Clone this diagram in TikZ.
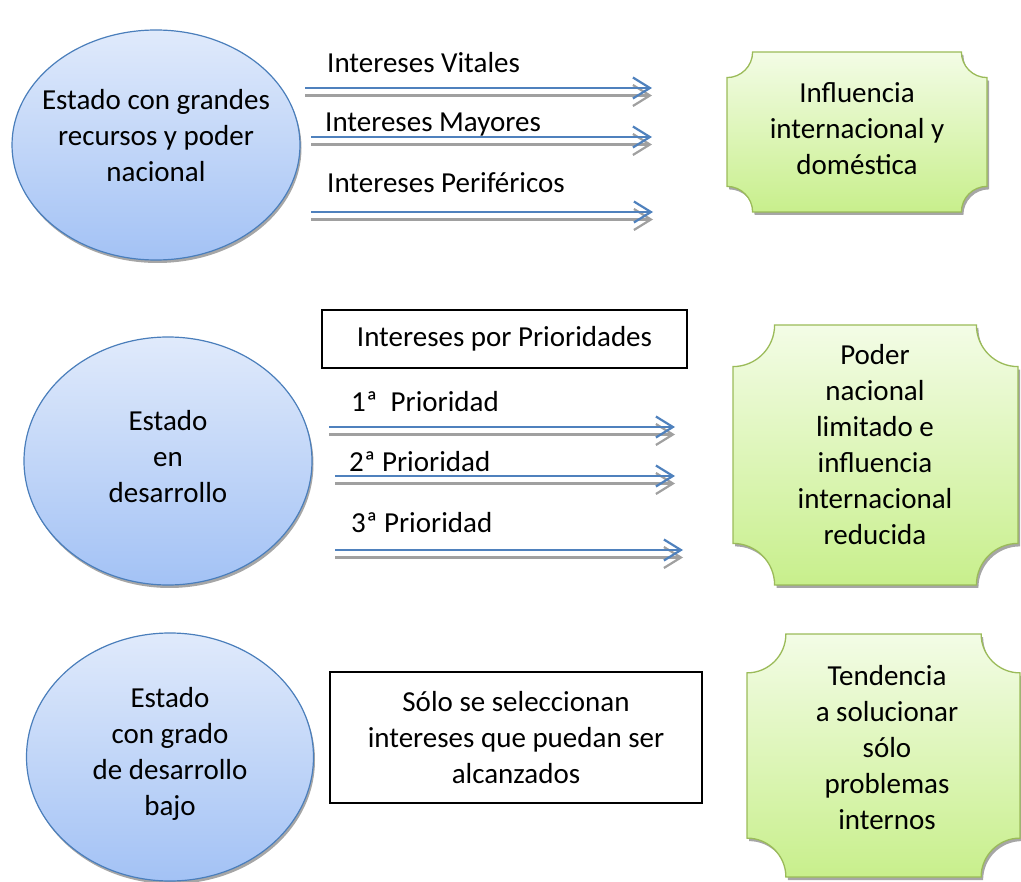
\documentclass[tikz,border=0pt]{standalone}
\usepackage{fontspec}
\setmainfont{Carlito}
\usetikzlibrary{shapes.geometric,arrows.meta,shadows}

\definecolor{ovalline}{RGB}{74,126,187}
\definecolor{ovaltop}{RGB}{224,234,251}
\definecolor{ovalbot}{RGB}{163,194,245}
\definecolor{plaqline}{RGB}{155,187,89}
\definecolor{plaqtop}{RGB}{243,252,230}
\definecolor{plaqbot}{RGB}{200,239,140}
\definecolor{arrblue}{RGB}{79,129,189}
\definecolor{arrgrey}{RGB}{160,160,160}

% plaque with concave corners: x1 y1 x2 y2
\newcommand\placa[4]{%
	\pgfmathsetmacro\rr{0.16*min(#3-#1,#4-#2)}
	\path[plaque] (#1+\rr,#2) -- (#3-\rr,#2) arc[start angle=180, end angle=90, radius=\rr]
		-- (#3,#4-\rr) arc[start angle=-90, end angle=-180, radius=\rr]
		-- (#1+\rr,#4) arc[start angle=0, end angle=-90, radius=\rr]
		-- (#1,#2+\rr) arc[start angle=90, end angle=0, radius=\rr] -- cycle;
}

\begin{document}
\begin{tikzpicture}[x=1pt, y=-1pt, font=\fontsize{29}{36}\selectfont,
	estado/.style={ellipse, draw=ovalline, line width=1.2pt, top color=ovaltop, bottom color=ovalbot,
		inner sep=0pt,
		drop shadow={shadow xshift=1.5pt, shadow yshift=-3pt, fill=black, opacity=.35}},
	plaque/.style={draw=plaqline, line width=1.3pt, top color=plaqtop, bottom color=plaqbot,
		drop shadow={shadow xshift=2pt, shadow yshift=-3pt, fill=black, opacity=.35}},
	caja/.style={draw, line width=1.3pt, align=center, inner sep=0pt},
	etiqueta/.style={anchor=base west, inner sep=0pt},
	flecha/.style={line width=2.2pt, -{Straight Barb[length=17pt, width=21pt, line width=2.2pt]}},
	azul/.style={flecha, arrblue},
	gris/.style={flecha, arrgrey}]
	\useasboundingbox (0,0) rectangle (1021,882);

	% states
	\node[estado, minimum width=288, minimum height=230] (e1) at (156,145) {};
	\node[estado, minimum width=288, minimum height=248] (e2) at (168,461) {};
	\node[estado, minimum width=287, minimum height=248] (e3) at (170,757) {};
	\node[align=center] (t1) at (156,136) {Estado con grandes\\recursos y poder\\nacional};
	\node[align=center] (t2) at (168,457) {Estado\\en\\desarrollo};
	\node[align=center] (t3) at (170,754) {Estado\\con grado\\de desarrollo\\bajo};

	% results
	\placa{727}{52}{987}{212}
	\placa{733}{325}{1018}{585}
	\placa{747}{634}{1020}{877}
	\node[align=center] (r1) at (857,129) {Influencia\\internacional y\\doméstica};
	\node[align=center] (r2) at (875,445) {Poder\\nacional\\limitado e\\influencia\\internacional\\reducida};
	\node[align=center] (r3) at (887,748) {Tendencia\\a solucionar\\sólo\\problemas\\internos};

	% boxes
	\node[caja, minimum width=365, minimum height=58] (b1) at (504.5,339) {Intereses por Prioridades};
	\node[caja, minimum width=372, minimum height=131] (b2) at (516,737.5)
		{Sólo se seleccionan\\intereses que puedan ser\\alcanzados};

	% double arrows
	\foreach \n/\xa/\xb/\y in {1/305/652/88, 2/311/652/137, 3/311/653/212,
		4/329/675/427, 5/335/675/476, 6/335/683/550} {
		\coordinate (s\n) at (\xa,\y);
		\coordinate (t\n) at (\xb,\y);
		\draw[gris] ([yshift=-7.5pt]s\n) -- ([yshift=-7.5pt]t\n);
		\draw[azul] (s\n) -- (t\n);
	}

	% labels
	\node[etiqueta] (l1) at (327,73) {Intereses Vitales};
	\node[etiqueta] (l2) at (325,132) {Intereses Mayores};
	\node[etiqueta] (l3) at (327,193) {Intereses Periféricos};
	\node[etiqueta] (l4) at (351,412) {1ª\ \ Prioridad};
	\node[etiqueta] (l5) at (349,472) {2ª Prioridad};
	\node[etiqueta] (l6) at (351,533) {3ª Prioridad};
\end{tikzpicture}
\end{document}
